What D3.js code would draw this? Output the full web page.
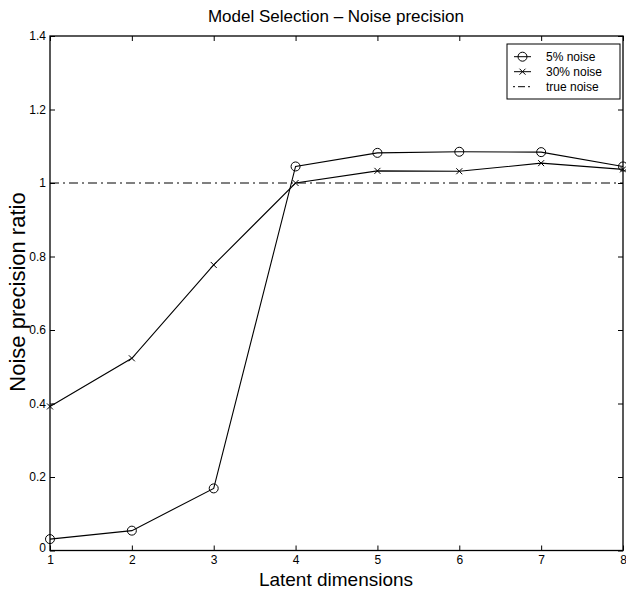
<!DOCTYPE html>
<html><head><meta charset="utf-8">
<script src="https://cdn.jsdelivr.net/npm/d3@7"></script>
<style>body{margin:0;background:#fff}svg{display:block}text{font-family:"Liberation Sans",Arial,sans-serif;fill:#000}</style>
</head><body>
<svg id="c" width="626" height="597"></svg>
<script>
const dims = [1,2,3,4,5,6,7,8];
const noise5 = [0.031,0.054,0.169,1.045,1.082,1.085,1.084,1.045];
const noise30 = [0.392,0.523,0.777,1.0,1.033,1.032,1.054,1.037];
const trueNoise = 1;
const yTicks = [0,0.2,0.4,0.6,0.8,1,1.2,1.4];
const legendLabels = ["5% noise","30% noise","true noise"];

const svg = d3.select("#c");
const L=50, R=623, T=36, B=550.5;
const x = d3.scaleLinear().domain([1,8]).range([L,R]);
const y = d3.scaleLinear().domain([0,1.4]).range([B,T]);

// frame
svg.append("rect").attr("x",L).attr("y",T).attr("width",R-L).attr("height",B-T)
  .attr("fill","none").attr("stroke","#000").attr("stroke-width",1.3);

const fmt = d=> d===0?"0":(d===1?"1":d3.format(".1f")(d));
// axes with inward ticks
const gb = svg.append("g").attr("transform",`translate(0,${B})`)
  .call(d3.axisBottom(x).tickValues(dims).tickSizeInner(-5).tickSizeOuter(0).tickPadding(5).tickFormat(d3.format("d")));
const gt = svg.append("g").attr("transform",`translate(0,${T})`)
  .call(d3.axisTop(x).tickValues(dims).tickSizeInner(-5).tickSizeOuter(0).tickFormat(""));
const gl = svg.append("g").attr("transform",`translate(${L},0)`)
  .call(d3.axisLeft(y).tickValues(yTicks).tickSizeInner(-5).tickSizeOuter(0).tickPadding(4).tickFormat(fmt));
const gr = svg.append("g").attr("transform",`translate(${R},0)`)
  .call(d3.axisRight(y).tickValues(yTicks).tickSizeInner(-5).tickSizeOuter(0).tickFormat(""));
[gb,gt,gl,gr].forEach(g=>{
  g.select(".domain").remove();
  g.selectAll("line").attr("stroke","#000").attr("stroke-width",1);
  g.selectAll("text").style("font-size","12px").attr("fill","#000");
});
gl.selectAll(".tick").filter(d=>d===0).select("text").attr("dy","0.1em");

// true noise
svg.append("line").attr("x1",x(1)).attr("x2",x(8)).attr("y1",y(trueNoise)).attr("y2",y(trueNoise))
  .attr("stroke","#000").attr("stroke-width",1).attr("stroke-dasharray","9,4,2,4");

const line = d3.line().x((d,i)=>x(dims[i])).y(d=>y(d));
svg.append("path").attr("d",line(noise5)).attr("fill","none").attr("stroke","#000").attr("stroke-width",1.1);
svg.append("path").attr("d",line(noise30)).attr("fill","none").attr("stroke","#000").attr("stroke-width",1.1);

svg.selectAll(".c5").data(noise5).enter().append("circle")
  .attr("cx",(d,i)=>x(dims[i])).attr("cy",d=>y(d)).attr("r",4.5)
  .attr("fill","none").attr("stroke","#000").attr("stroke-width",1);
const cross = (g,cx,cy,s)=>{
  g.append("path").attr("d",`M${cx-s},${cy-s}L${cx+s},${cy+s}M${cx-s},${cy+s}L${cx+s},${cy-s}`)
   .attr("stroke","#000").attr("stroke-width",1);
};
noise30.forEach((d,i)=>cross(svg,x(dims[i]),y(d),3));

// legend
const lg = svg.append("g");
lg.append("rect").attr("x",507).attr("y",44).attr("width",113).attr("height",55)
  .attr("fill","#fff").attr("stroke","#000").attr("stroke-width",1);
const ly=[56.7,71.7,86.7];
ly.forEach((yy,i)=>{
  const l = lg.append("line").attr("x1",514).attr("x2",531).attr("y1",yy).attr("y2",yy).attr("stroke","#000").attr("stroke-width",1);
  if(i===2) l.attr("stroke-dasharray","2,3,7,3").attr("x1",513);
  if(i===0) lg.append("circle").attr("cx",522.5).attr("cy",yy).attr("r",4.5).attr("fill","none").attr("stroke","#000");
  if(i===1) cross(lg,522.5,yy,3);
  lg.append("text").attr("x",546).attr("y",yy).attr("dy","0.35em").style("font-size","12px").text(legendLabels[i]);
});

// titles
svg.append("text").attr("x",336).attr("y",22).attr("text-anchor","middle").style("font-size","17px").text("Model Selection \u2013 Noise precision");
svg.append("text").attr("x",336).attr("y",586).attr("text-anchor","middle").style("font-size","19px").text("Latent dimensions");
svg.append("text").attr("transform",`translate(25,292) rotate(-90)`).attr("text-anchor","middle").style("font-size","22px").text("Noise precision ratio");
</script>
</body></html>
